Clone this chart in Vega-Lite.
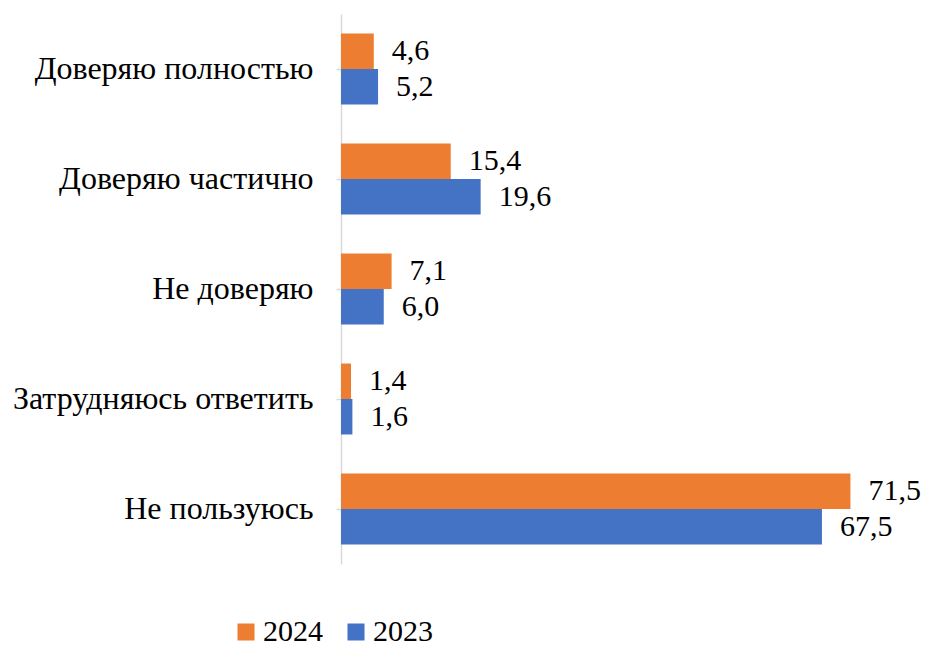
{
  "$schema": "https://vega.github.io/schema/vega-lite/v6.json",
  "autosize": "none",
  "width": 570,
  "height": 550,
  "padding": {"left": 341, "top": 14, "right": 14, "bottom": 83},
  "background": "white",
  "config": {
    "view": {"stroke": null},
    "font": "Liberation Serif",
    "locale": {"number": {"decimal": ",", "thousands": " ", "grouping": [3], "currency": ["", ""]}}
  },
  "data": {
    "values": [
      {"cat": "Доверяю полностью", "year": "2024", "v": 4.6},
      {"cat": "Доверяю полностью", "year": "2023", "v": 5.2},
      {"cat": "Доверяю частично", "year": "2024", "v": 15.4},
      {"cat": "Доверяю частично", "year": "2023", "v": 19.6},
      {"cat": "Не доверяю", "year": "2024", "v": 7.1},
      {"cat": "Не доверяю", "year": "2023", "v": 6.0},
      {"cat": "Затрудняюсь ответить", "year": "2024", "v": 1.4},
      {"cat": "Затрудняюсь ответить", "year": "2023", "v": 1.6},
      {"cat": "Не пользуюсь", "year": "2024", "v": 71.5},
      {"cat": "Не пользуюсь", "year": "2023", "v": 67.5}
    ]
  },
  "encoding": {
    "y": {
      "field": "cat", "type": "nominal", "sort": null, "title": null,
      "scale": {"paddingInner": 0.355, "paddingOuter": 0.1775},
      "axis": {
        "labelFont": "Liberation Serif", "labelFontSize": 32, "labelColor": "#000000",
        "domainColor": "#d9d9d9", "domainWidth": 1.5, "tickColor": "#d9d9d9", "tickWidth": 1.5,
        "tickSize": 5, "labelPadding": 23, "labelLimit": 400
      }
    },
    "x": {
      "field": "v", "type": "quantitative", "title": null,
      "scale": {"domain": [0, 80], "nice": false},
      "axis": null
    },
    "yOffset": {"field": "year", "type": "nominal", "sort": ["2024", "2023"]}
  },
  "layer": [
    {
      "mark": {"type": "bar"},
      "encoding": {
        "color": {
          "field": "year", "type": "nominal", "title": null,
          "scale": {"domain": ["2024", "2023"], "range": ["#ED7D31", "#4472C4"]},
          "legend": {
            "orient": "none", "direction": "horizontal", "legendX": -110, "legendY": 603,
            "symbolType": "square", "symbolSize": 289, "symbolStrokeWidth": 0,
            "labelFont": "Liberation Serif", "labelFontSize": 30, "labelColor": "#000000",
            "labelOffset": 2, "columnPadding": 18, "padding": 0, "labelLimit": 200
          }
        }
      }
    },
    {
      "mark": {"type": "text", "align": "left", "baseline": "middle", "dx": 18, "fontSize": 30, "font": "Liberation Serif", "color": "#000000"},
      "encoding": {
        "text": {"field": "v", "type": "quantitative", "format": ".1f"}
      }
    }
  ]
}
